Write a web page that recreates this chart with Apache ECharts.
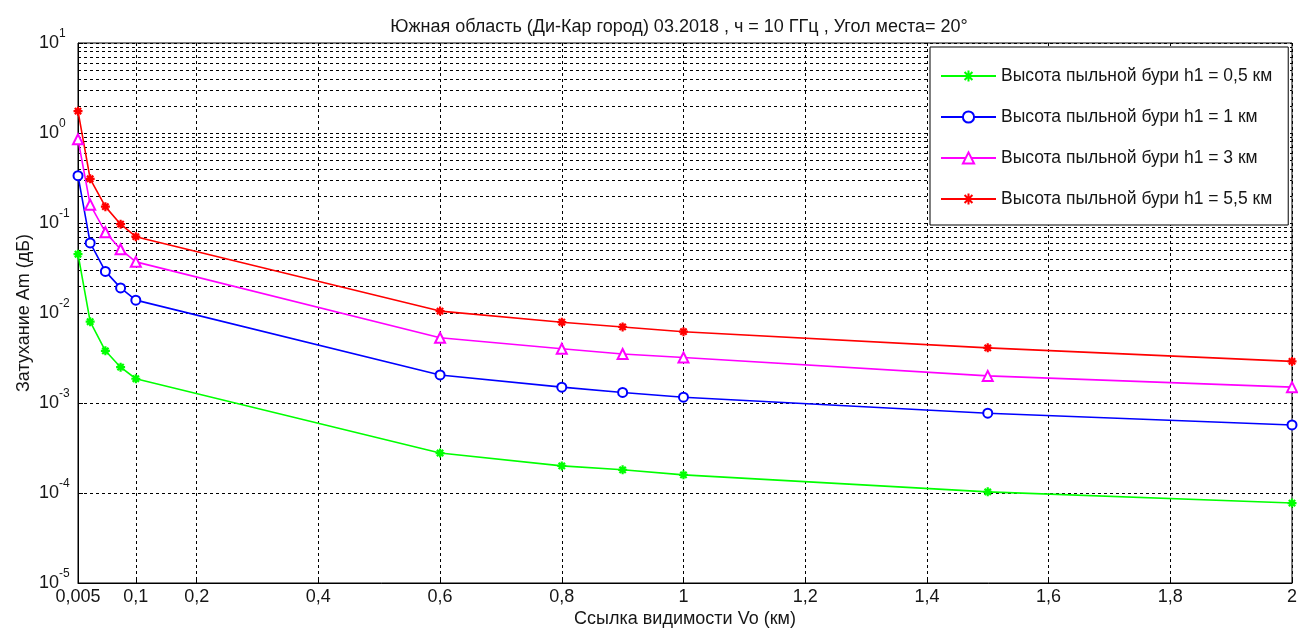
<!DOCTYPE html>
<html>
<head>
<meta charset="utf-8">
<script src="https://cdn.jsdelivr.net/npm/echarts@6/dist/echarts.min.js"></script>
<style>html,body{margin:0;padding:0;background:#fff}#c{width:1298px;height:629px}</style>
</head>
<body>
<div id="c"></div>
<script>
const xValues = [0.005, 0.025, 0.05, 0.075, 0.1, 0.6, 0.8, 0.9, 1, 1.5, 2];
const h05 = [0.045, 0.0080, 0.0038, 0.0025, 0.00186, 0.000278, 0.0002, 0.000181, 0.000159, 0.000103, 0.0000773];
const h1 = [0.336, 0.060, 0.029, 0.019, 0.0139, 0.00205, 0.0015, 0.00131, 0.00116, 0.00077, 0.00057];
const h3 = [0.85, 0.16, 0.079, 0.051, 0.037, 0.0053, 0.0040, 0.0035, 0.0032, 0.0020, 0.0015];
const h55 = [1.75, 0.31, 0.152, 0.097, 0.0705, 0.0105, 0.0079, 0.0070, 0.0062, 0.0041, 0.0029];
const seriesNames = ['Высота пыльной бури h1 = 0,5 км', 'Высота пыльной бури h1 = 1 км', 'Высота пыльной бури h1 = 3 км', 'Высота пыльной бури h1 = 5,5 км'];
const xTicks = [0.005, 0.1, 0.2, 0.4, 0.6, 0.8, 1, 1.2, 1.4, 1.6, 1.8, 2];
const titleText = 'Южная область (Ди-Кар город) 03.2018 , ч = 10 ГГц , Угол места= 20°';
const xName = 'Ссылка видимости Vo (км)';
const yName = 'Затухание Am (дБ)';

const FONT = '"Liberation Sans", Arial, sans-serif';
const TXT = '#161616';
const minorVals = [];
for (let k = -5; k <= 0; k++) for (let m = 2; m <= 9; m++) minorVals.push({yAxis: +(m * Math.pow(10, k)).toPrecision(3)});

const star = 'path://M0,-5V5M-5,0H5M-3.5,-3.5L3.5,3.5M-3.5,3.5L3.5,-3.5';
function mk(name, ys, color, symbol, size) {
  const isStar = symbol === star;
  return {
    name, type: 'line', data: xValues.map((x, i) => [x, ys[i]]),
    symbol, symbolSize: size, showAllSymbol: true,
    lineStyle: {color, width: 1.6},
    itemStyle: isStar ? {color, borderColor: color, borderWidth: 2.2} : {color, borderWidth: 1.6},
    z: 3
  };
}

const chart = echarts.init(document.getElementById('c'), null, {renderer: 'canvas'});
chart.setOption({
  animation: false,
  backgroundColor: '#fff',
  title: {text: titleText, left: 674, textAlign: 'center', top: 13,
    textStyle: {fontFamily: FONT, fontSize: 18, fontWeight: 'normal', color: TXT}},
  grid: {left: 78, right: 6, top: 43, bottom: 46, show: true, borderColor: '#000', borderWidth: 1,
    backgroundColor: 'transparent', containLabel: false, outerBoundsMode: 'none'},
  legend: {
    orient: 'vertical', left: 930, top: 47,
    padding: [20, 16, 17, 10], itemGap: 23, itemWidth: 55, itemHeight: 14,
    backgroundColor: '#fff', borderColor: '#000', borderWidth: 1,
    textStyle: {fontFamily: FONT, fontSize: 17.5, color: TXT},
    data: seriesNames
  },
  xAxis: {
    type: 'value', min: 0.005, max: 2,
    name: xName, nameLocation: 'middle', nameGap: 27, nameMoveOverlap: false,
    nameTextStyle: {fontFamily: FONT, fontSize: 18, color: TXT},
    axisLine: {show: true, onZero: false, lineStyle: {color: '#000'}},
    axisTick: {inside: true, length: 5, customValues: xTicks, lineStyle: {color: '#000'}},
    axisLabel: {customValues: xTicks, margin: 5, fontFamily: FONT, fontSize: 18, color: TXT,
      formatter: v => String(v).replace('.', ',')},
    splitLine: {show: true, lineStyle: {color: '#000', type: [3, 3], width: 1}}
  },
  yAxis: {
    type: 'log', logBase: 10, min: 1e-5, max: 10,
    name: yName, nameLocation: 'middle', nameGap: 45, nameMoveOverlap: false,
    nameTextStyle: {fontFamily: FONT, fontSize: 18, color: TXT},
    axisLine: {show: true, lineStyle: {color: '#000'}},
    axisTick: {inside: true, length: 5, lineStyle: {color: '#000'}},
    axisLabel: {
      margin: 39, align: 'left', color: TXT, padding: [0, 0, 1, 0],
      formatter: v => {
        const e = Math.round(Math.log10(v));
        return '{u|10}{s|' + e + '}\n{b|10}';
      },
      rich: {
        u: {fontFamily: FONT, fontSize: 18, color: 'rgba(0,0,0,0)', lineHeight: 1},
        s: {fontFamily: FONT, fontSize: 12, color: TXT, lineHeight: 1},
        b: {fontFamily: FONT, fontSize: 18, color: TXT, lineHeight: 18}
      }
    },
    splitLine: {show: true, lineStyle: {color: '#000', type: [3, 3], width: 1}}
  },
  series: [
    {
      type: 'line', data: [], silent: true, z: 1,
      markLine: {silent: true, symbol: 'none', z: 1, animation: false, label: {show: false},
        lineStyle: {color: '#000', type: [3, 3], width: 1}, emphasis: {disabled: true},
        data: minorVals}
    },
    mk(seriesNames[0], h05, '#00ff00', star, 9),
    mk(seriesNames[1], h1, '#0000ff', 'emptyCircle', 9),
    mk(seriesNames[2], h3, '#ff00ff', 'emptyTriangle', 10),
    mk(seriesNames[3], h55, '#ff0000', star, 9)
  ]
});
</script>
</body>
</html>
